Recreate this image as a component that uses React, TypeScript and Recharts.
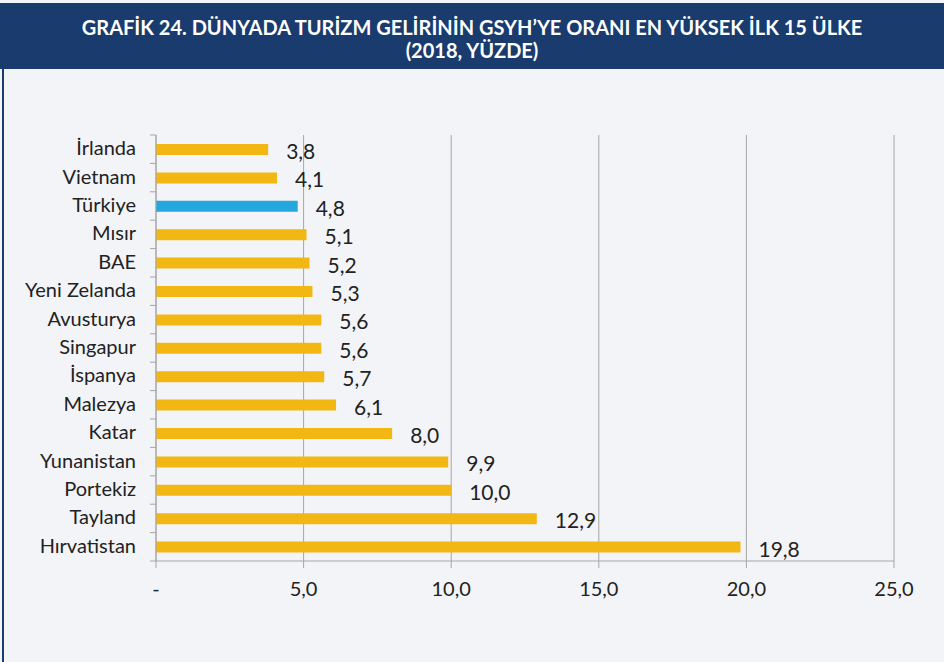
import { BarChart, Bar, XAxis, YAxis, CartesianGrid, Cell, LabelList } from 'recharts';

const countries = [
  'İrlanda', 'Vietnam', 'Türkiye', 'Mısır', 'BAE', 'Yeni Zelanda', 'Avusturya', 'Singapur',
  'İspanya', 'Malezya', 'Katar', 'Yunanistan', 'Portekiz', 'Tayland', 'Hırvatistan',
];
const shares = [3.8, 4.1, 4.8, 5.1, 5.2, 5.3, 5.6, 5.6, 5.7, 6.1, 8.0, 9.9, 10.0, 12.9, 19.8];
const xTicks = [0, 5, 10, 15, 20, 25];
const highlight = 'Türkiye';

const data = countries.map((name, i) => ({ name, value: shares[i] }));

const FONT = 'Lato, "Noto Sans", sans-serif';
const BAND = (561 - 135) / countries.length;

const fmt = (v: number) => (v === 0 ? '-' : v.toFixed(1).replace('.', ','));

// eslint-disable-next-line @typescript-eslint/no-explicit-any
const CountryTick = (props: any) => {
  const { x, y, payload, index } = props;
  const axisX = x + 6;
  return (
    <g>
      <line x1={axisX - 6} x2={axisX} y1={y - BAND / 2} y2={y - BAND / 2} stroke="#a6a6a6" />
      {index === countries.length - 1 && (
        <line x1={axisX - 6} x2={axisX} y1={y + BAND / 2} y2={y + BAND / 2} stroke="#a6a6a6" />
      )}
      <text x={x - 14} y={y} dy={6} textAnchor="end" fill="#222" fontSize={20} fontFamily={FONT}>
        {payload.value}
      </text>
    </g>
  );
};

export default function App() {
  return (
    <div style={{ position: 'absolute', left: 0, top: 0, width: 944, height: 662, background: '#f3f4f8', overflow: 'hidden' }}>
      <div
        style={{
          position: 'absolute', left: 0, top: 3, width: 944, height: 66, background: '#193b6d',
          color: '#fff', fontFamily: FONT, fontWeight: 700, fontSize: 20, textAlign: 'center', lineHeight: '23px',
          paddingTop: 13, boxSizing: 'border-box',
        }}
      >
        GRAFİK 24. DÜNYADA TURİZM GELİRİNİN GSYH’YE ORANI EN YÜKSEK İLK 15 ÜLKE
        <br />
        (2018, YÜZDE)
      </div>
      <div style={{ position: 'absolute', left: 2, top: 69, width: 2, height: 593, background: '#193b6d' }} />
      <div style={{ position: 'absolute', left: 0, top: 0 }}>
        <BarChart
          width={944}
          height={662}
          data={data}
          layout="vertical"
          margin={{ top: 135, right: 50, bottom: 71, left: 0 }}
          barSize={11}
        >
          <CartesianGrid horizontal={false} stroke="#a6a6a6" />
          <XAxis
            type="number"
            domain={[0, 25]}
            ticks={xTicks}
            tickFormatter={fmt}
            axisLine={{ stroke: '#a6a6a6' }}
            tickLine={{ stroke: '#a6a6a6' }}
            tickSize={7}
            height={30}
            tick={{ fill: '#222', fontSize: 20, fontFamily: FONT, dy: 12 }}
          />
          <YAxis
            type="category"
            dataKey="name"
            width={156}
            axisLine={{ stroke: '#a6a6a6' }}
            tickLine={false}
            tickMargin={0}
            tick={<CountryTick />}
          />
          <Bar dataKey="value" isAnimationActive={false}>
            {data.map((d) => (
              <Cell key={d.name} fill={d.name === highlight ? '#23a7dd' : '#f2b713'} />
            ))}
            <LabelList
              dataKey="value"
              position="right"
              offset={18}
              formatter={(v: number) => fmt(v)}
              fill="#222"
              fontSize={21}
              fontFamily={FONT}
              dy={2}
            />
          </Bar>
        </BarChart>
      </div>
    </div>
  );
}
